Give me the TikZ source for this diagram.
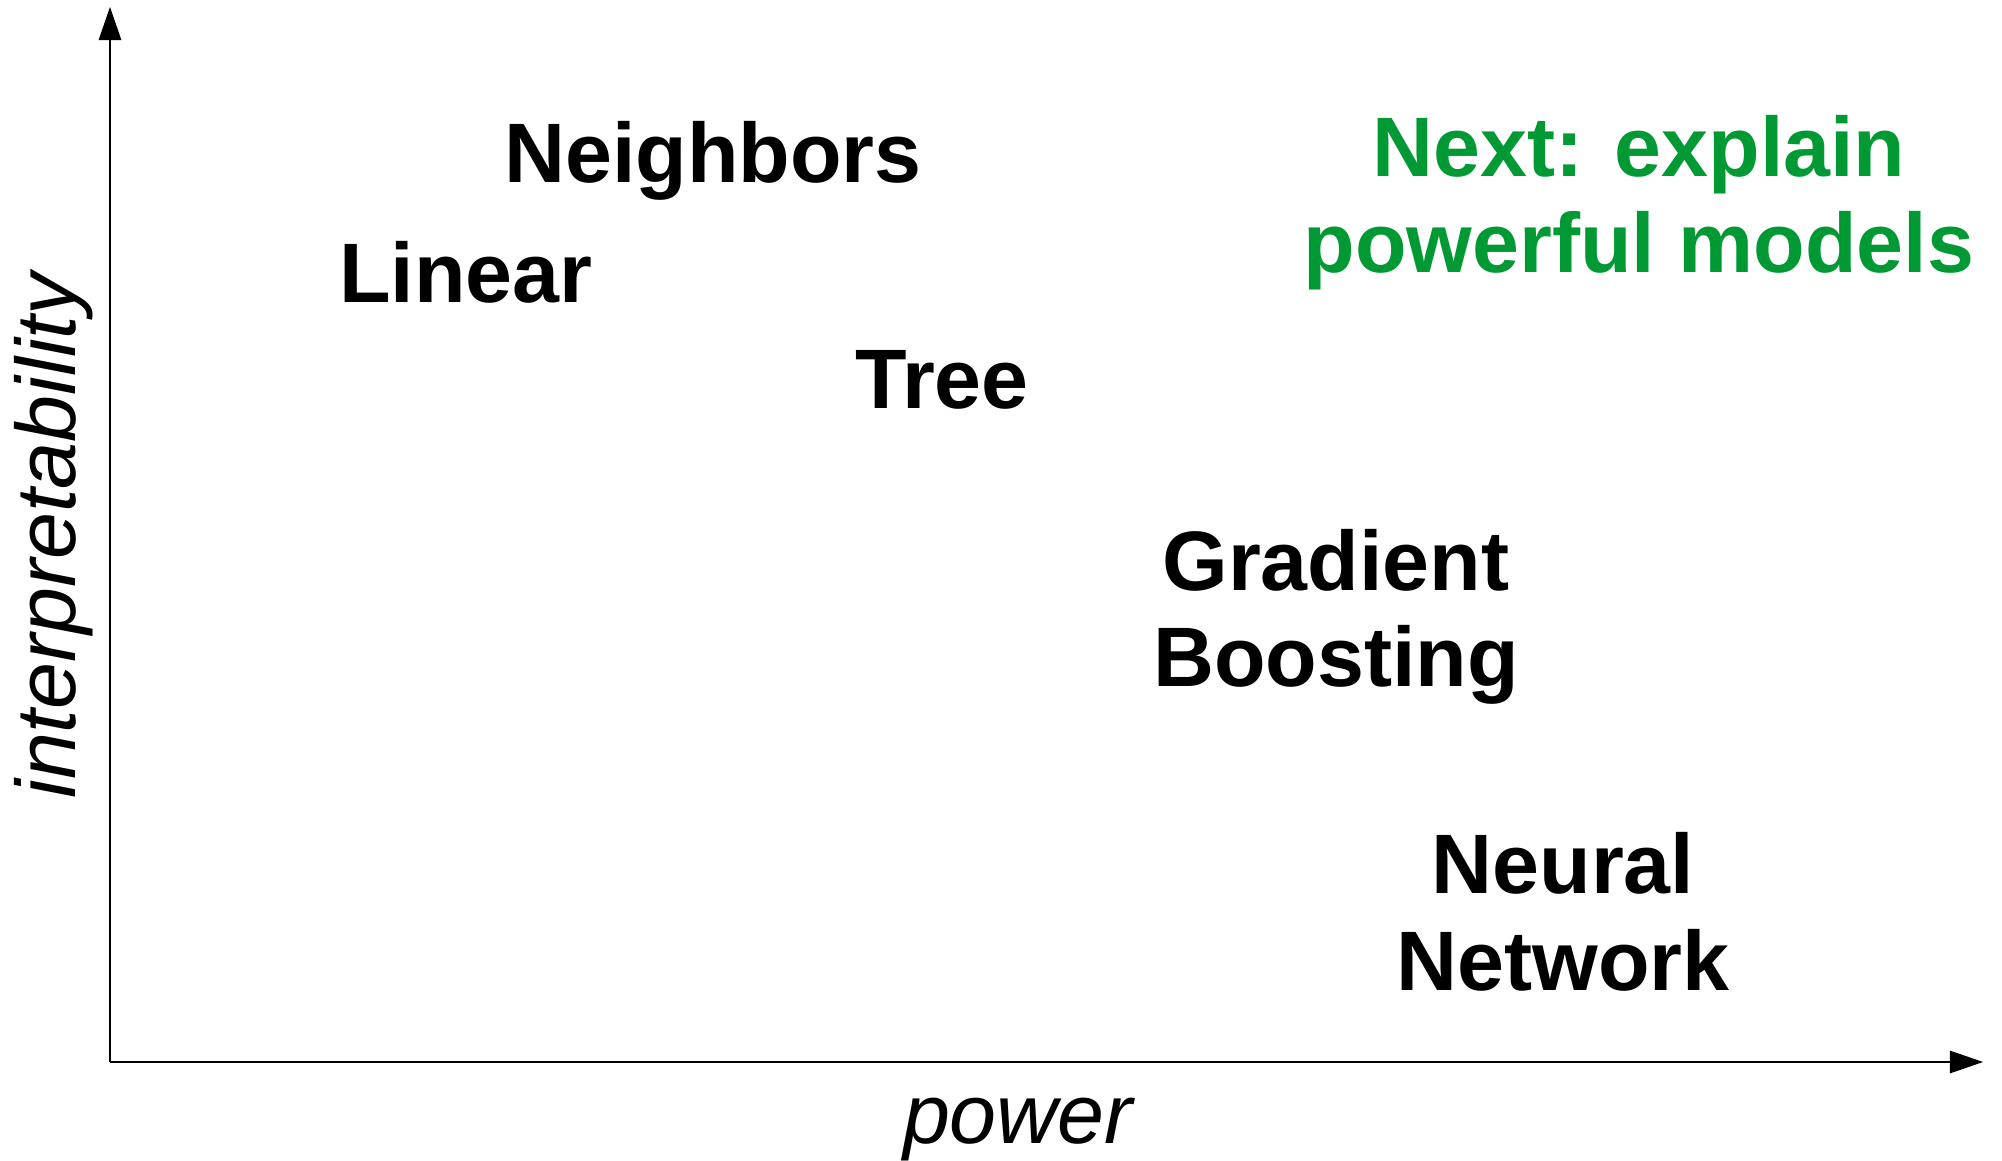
\documentclass[tikz,border=0pt]{standalone}
\usepackage{fontspec}
\setmainfont{Liberation Sans}
\usetikzlibrary{arrows.meta}
\definecolor{nextgreen}{RGB}{0,153,51}
\begin{document}
\begin{tikzpicture}[x=0.01cm, y=-0.01cm, >={Triangle[length=9.4pt, width=6.4pt]},
  model/.style={font=\fontsize{24}{27.4}\selectfont\bfseries, align=center, anchor=base, inner sep=0pt},
  axislabel/.style={font=\fontsize{24}{27.4}\selectfont\itshape, anchor=base, inner sep=0pt}]
\useasboundingbox (0,0) rectangle (2002,1161);
\coordinate (o) at (110,1062);
\coordinate (yt) at (110,7);
\coordinate (xt) at (1983,1062);
\draw[->, line width=0.4pt] (o) -- (yt);
\draw[->, line width=0.4pt] (o) -- (xt);
\node[axislabel] (p) at (1018,1143) {power};
\node[axislabel, rotate=90] (i) at (75,536) {interpretability};
\node[model] (n) at (713,183) {Neighbors};
\node[model] (l) at (466,303) {Linear};
\node[model] (t) at (942,409) {Tree};
\node[model] (g) at (1336,687) {Gradient\\Boosting};
\node[model] (nn) at (1563,990) {Neural\\Network};
\node[model, text=nextgreen] (nx) at (1639,273) {Next: explain\\powerful models};
\end{tikzpicture}
\end{document}
